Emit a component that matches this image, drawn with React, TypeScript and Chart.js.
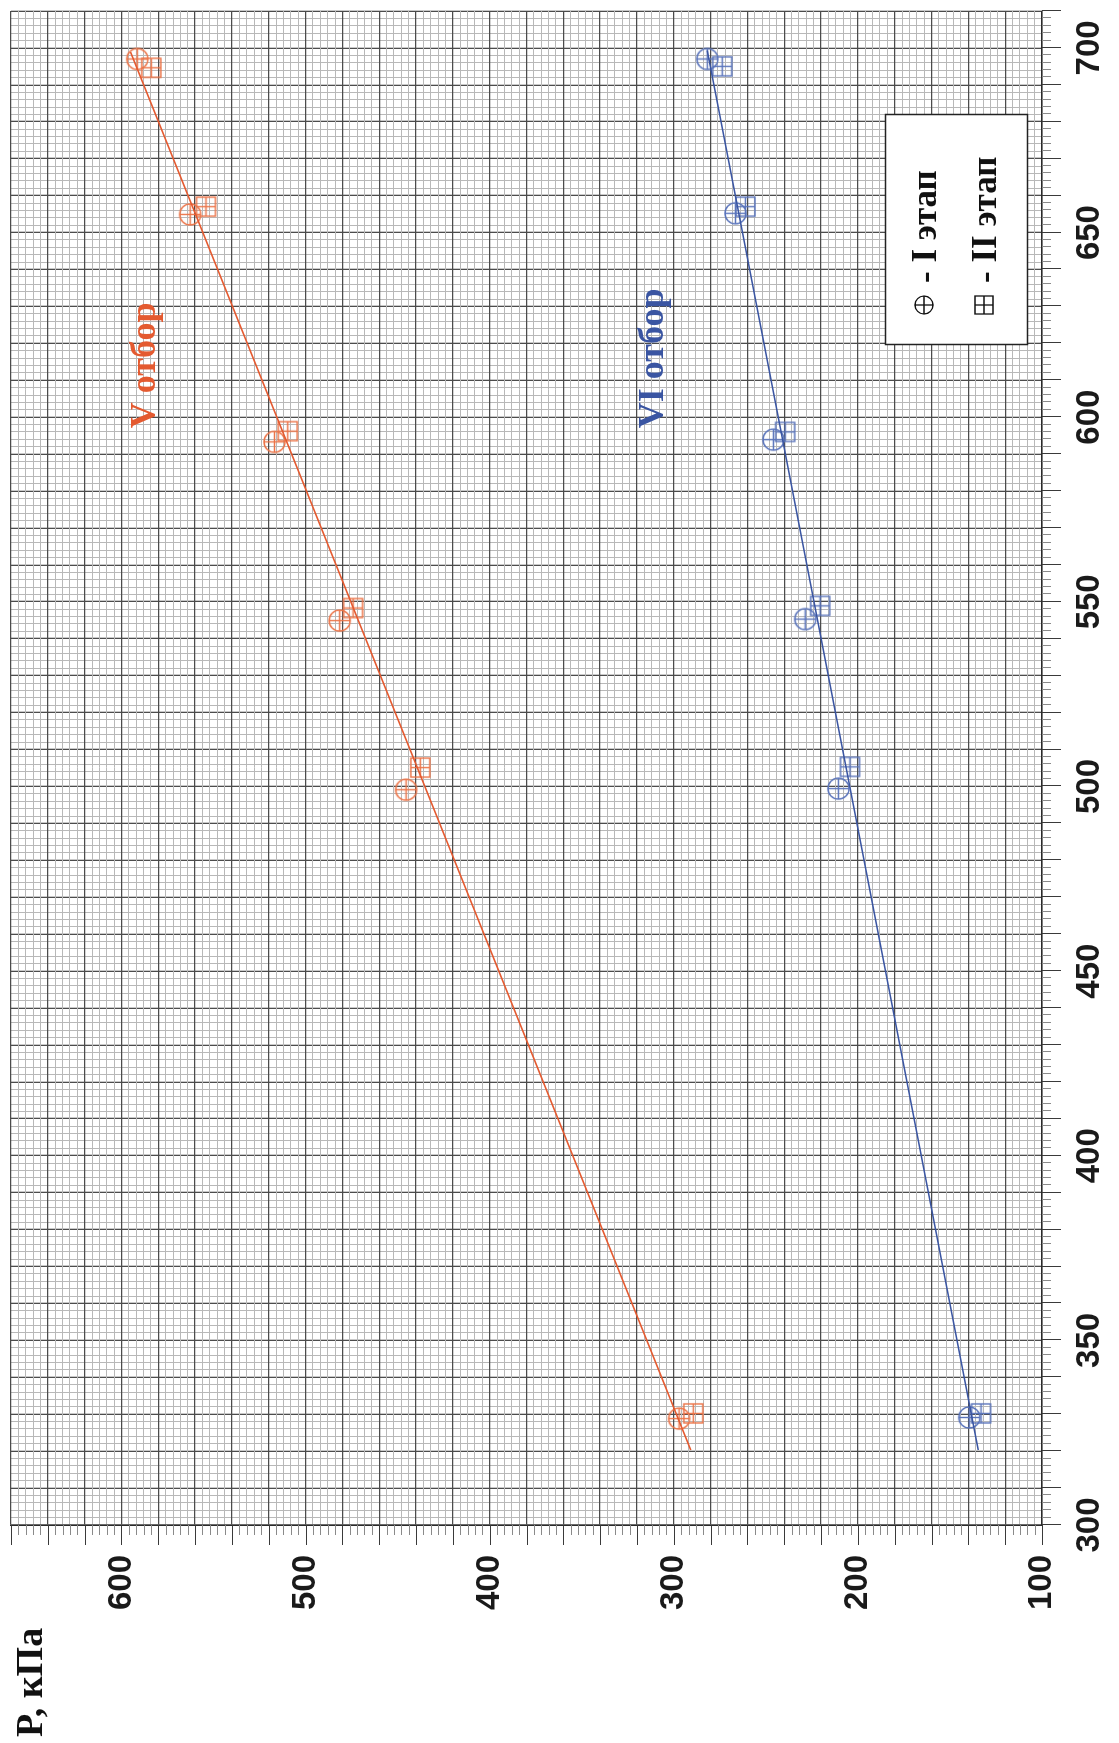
import { useEffect, useRef } from "react";
import { Chart, registerables } from "chart.js";

Chart.register(...registerables);

// Flow axis (Q) and pressure axis (P, кПа) limits
const qLimits = [300, 710];
const pLimits = [100, 660];
const qTickLabels = [300, 350, 400, 450, 500, 550, 600, 650, 700];
const pTickLabels = [100, 200, 300, 400, 500, 600];

// V отбор — I этап / II этап
const qV1 = [697.0, 654.9, 593.3, 544.9, 499.1, 328.8];
const pV1 = [591.4, 562.7, 516.9, 481.5, 445.4, 297.1];
const qV2 = [694.6, 657.0, 596.2, 548.3, 505.1, 330.2];
const pV2 = [583.8, 554.1, 509.7, 474.2, 437.7, 289.4];

// VI отбор — I этап / II этап
const qVI1 = [697.0, 655.2, 593.9, 545.3, 499.4, 329.1];
const pVI1 = [281.8, 266.5, 245.9, 228.6, 210.6, 139.5];
const qVI2 = [695.0, 657.0, 596.0, 548.9, 505.3, 330.2];
const pVI2 = [273.7, 261.1, 239.5, 220.5, 204.3, 133.1];

// Trend lines (end points)
const qVFit = [320.3, 698.9];
const pVFit = [290.8, 595.1];
const qVIFit = [320.3, 699.3];
const pVIFit = [134.6, 281.8];

const RED = "#e45a30";
const RED_MARK = "#ec7448";
const BLUE = "#3a55a2";
const BLUE_MARK = "#5a74bb";

const W = 1743;
const H = 1119;

const pairs = (qs: number[], ps: number[]) => qs.map((q, i) => ({ x: q, y: ps[i] }));

function markerCanvas(kind: "circle" | "square", color: string, size: number, lw: number) {
  const c = document.createElement("canvas");
  const s = size + 4;
  c.width = s;
  c.height = s;
  const g = c.getContext("2d")!;
  g.strokeStyle = color;
  g.lineWidth = lw;
  const m = s / 2;
  const r = size / 2;
  g.beginPath();
  if (kind === "circle") g.arc(m, m, r, 0, Math.PI * 2);
  else g.rect(m - r, m - r, size, size);
  g.moveTo(m - r, m);
  g.lineTo(m + r, m);
  g.moveTo(m, m - r);
  g.lineTo(m, m + r);
  g.stroke();
  return c;
}

function drawSymbol(g: CanvasRenderingContext2D, kind: "circle" | "square", x: number, y: number, size: number) {
  const r = size / 2;
  g.beginPath();
  if (kind === "circle") g.arc(x, y, r, 0, Math.PI * 2);
  else g.rect(x - r, y - r, size, size);
  g.moveTo(x - r, y);
  g.lineTo(x + r, y);
  g.moveTo(x, y - r);
  g.lineTo(x, y + r);
  g.stroke();
}

// Axis tick marks: short and long, like on the graph paper frame
const tickMarks = {
  id: "tickMarks",
  afterDraw(chart: any) {
    const g = chart.ctx as CanvasRenderingContext2D;
    const xs = chart.scales.x;
    const ys = chart.scales.y;
    const area = chart.chartArea;
    g.save();
    for (const t of xs.ticks) {
      const v = Math.round(t.value);
      const px = Math.round(xs.getPixelForValue(v)) + 0.5;
      const long = v % 10 === 0;
      g.strokeStyle = long ? "#3a3a3a" : "#8a8a8a";
      g.lineWidth = 1;
      g.beginPath();
      g.moveTo(px, area.bottom);
      g.lineTo(px, area.bottom + (long ? 19 : 9));
      g.stroke();
    }
    for (const t of ys.ticks) {
      const v = Math.round(t.value);
      const py = Math.round(ys.getPixelForValue(v)) + 0.5;
      const long = v % 20 === 0;
      g.strokeStyle = long ? "#3a3a3a" : "#8a8a8a";
      g.lineWidth = 1;
      g.beginPath();
      g.moveTo(area.left - (long ? 20 : 10), py);
      g.lineTo(area.left, py);
      g.stroke();
    }
    g.restore();
  },
};

// Series captions, axis title and the legend box
const annotations = {
  id: "annotations",
  afterDraw(chart: any) {
    const g = chart.ctx as CanvasRenderingContext2D;
    const xs = chart.scales.x;
    const ys = chart.scales.y;
    g.save();
    g.textBaseline = "alphabetic";
    g.textAlign = "left";

    g.font = 'bold 36px "Liberation Serif"';
    g.fillStyle = RED;
    g.fillText("V отбор", xs.getPixelForValue(597), ys.getPixelForValue(582));
    g.fillStyle = BLUE;
    g.fillText("VI отбор", xs.getPixelForValue(597), ys.getPixelForValue(306));

    g.font = 'bold 38px "Liberation Serif"';
    g.fillStyle = "#111";
    g.fillText("P, кПа", 6, 42);

    // legend
    const bx = 1398, by = 885, bw = 230, bh = 142;
    g.fillStyle = "#ffffff";
    g.fillRect(bx, by, bw, bh);
    g.strokeStyle = "#222";
    g.lineWidth = 1.5;
    g.strokeRect(bx + 0.5, by + 0.5, bw, bh);

    g.strokeStyle = "#111";
    g.lineWidth = 1.3;
    drawSymbol(g, "circle", 1438, 924, 18);
    drawSymbol(g, "square", 1438, 984, 18);

    g.font = 'bold 35px "Liberation Serif"';
    g.fillStyle = "#111";
    g.fillText("- I этап", 1460, 936);
    g.fillText("- II этап", 1460, 996);
    g.restore();
  },
};

export default function App() {
  const ref = useRef<HTMLCanvasElement>(null);

  useEffect(() => {
    const circleRed = markerCanvas("circle", RED_MARK, 21, 1.4);
    const squareRed = markerCanvas("square", RED_MARK, 19, 1.4);
    const circleBlue = markerCanvas("circle", BLUE_MARK, 21, 1.4);
    const squareBlue = markerCanvas("square", BLUE_MARK, 19, 1.4);

    const gridColor = (ctx: any, every: number) =>
      Math.round(ctx.tick.value) % every === 0 ? "#4c4c4c" : "#b8b8b8";
    const gridWidth = (ctx: any, every: number) =>
      Math.round(ctx.tick.value) % every === 0 ? 1.3 : 1;

    const chart = new Chart(ref.current!, {
      type: "scatter",
      data: {
        datasets: [
          {
            label: "V отбор, тренд",
            data: pairs(qVFit, pVFit),
            showLine: true,
            borderColor: RED,
            borderWidth: 1.6,
            pointRadius: 0,
          },
          {
            label: "VI отбор, тренд",
            data: pairs(qVIFit, pVIFit),
            showLine: true,
            borderColor: BLUE,
            borderWidth: 1.6,
            pointRadius: 0,
          },
          { label: "V отбор, I этап", data: pairs(qV1, pV1), pointStyle: circleRed as any, pointRadius: 10 },
          { label: "V отбор, II этап", data: pairs(qV2, pV2), pointStyle: squareRed as any, pointRadius: 10 },
          { label: "VI отбор, I этап", data: pairs(qVI1, pVI1), pointStyle: circleBlue as any, pointRadius: 10 },
          { label: "VI отбор, II этап", data: pairs(qVI2, pVI2), pointStyle: squareBlue as any, pointRadius: 10 },
        ],
      },
      options: {
        responsive: false,
        animation: false,
        devicePixelRatio: 1,
        layout: { padding: { top: 7, right: 8, left: 0, bottom: 0 } },
        plugins: { legend: { display: false }, tooltip: { enabled: false } },
        scales: {
          x: {
            type: "linear",
            position: "bottom",
            min: qLimits[0],
            max: qLimits[1],
            afterFit: (s: any) => {
              s.height = 77;
              s.paddingLeft = 0;
              s.paddingRight = 0;
              s.paddingTop = 0;
              s.paddingBottom = 0;
            },
            grid: {
              drawTicks: false,
              color: (ctx: any) => gridColor(ctx, 10),
              lineWidth: (ctx: any) => gridWidth(ctx, 10),
            },
            border: { display: true, color: "#2a2a2a", width: 1.6 },
            ticks: {
              stepSize: 2,
              maxTicksLimit: 1000,
              autoSkip: false,
              maxRotation: 0,
              minRotation: 0,
              padding: 28,
              color: "#1a1a1a",
              font: { family: '"Liberation Sans", Arial, sans-serif', size: 33, weight: "bold" },
              callback: (v: any) => (qTickLabels.includes(Math.round(v)) ? String(Math.round(v)) : ""),
            },
          },
          y: {
            type: "linear",
            position: "left",
            min: pLimits[0],
            max: pLimits[1],
            afterFit: (s: any) => {
              s.width = 218;
              s.paddingLeft = 0;
              s.paddingRight = 0;
              s.paddingTop = 0;
              s.paddingBottom = 0;
            },
            grid: {
              drawTicks: false,
              color: (ctx: any) => gridColor(ctx, 20),
              lineWidth: (ctx: any) => gridWidth(ctx, 20),
            },
            border: { display: true, color: "#2a2a2a", width: 1.6 },
            ticks: {
              stepSize: 4,
              maxTicksLimit: 1000,
              autoSkip: false,
              padding: 30,
              color: "#1a1a1a",
              font: { family: '"Liberation Sans", Arial, sans-serif', size: 33, weight: "bold" },
              callback: (v: any) => (pTickLabels.includes(Math.round(v)) ? String(Math.round(v)) : ""),
            },
          },
        },
      },
      plugins: [tickMarks, annotations],
    });
    return () => chart.destroy();
  }, []);

  return (
    <div
      style={{
        position: "absolute",
        left: 0,
        top: 0,
        width: H,
        height: W,
        overflow: "hidden",
        background: "#ffffff",
      }}
    >
      <div
        style={{
          position: "absolute",
          left: 0,
          top: 0,
          width: W,
          height: H,
          transformOrigin: "0 0",
          transform: `translateY(${W}px) rotate(-90deg)`,
        }}
      >
        <canvas ref={ref} width={W} height={H} style={{ display: "block", width: W, height: H }} />
      </div>
    </div>
  );
}
